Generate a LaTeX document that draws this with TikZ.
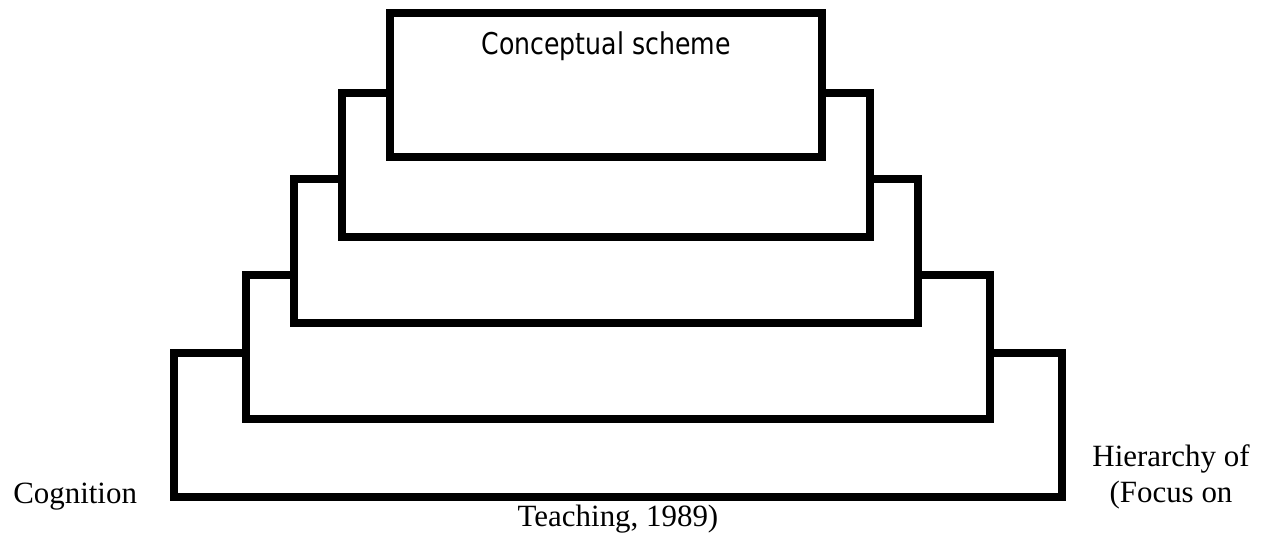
\documentclass[tikz,border=0pt]{standalone}
\usepackage{fontspec}
\setmainfont{Liberation Serif}
\newfontfamily\boxfont[FakeStretch=0.84]{DejaVu Sans}
\begin{document}
\begin{tikzpicture}[x=0.75pt,y=-0.75pt,
  tier/.style={draw=black,fill=white,line width=6pt,rectangle,inner sep=0pt,minimum height=108pt},
  serif/.style={inner sep=0pt,font=\fontsize{23.2pt}{27pt}\selectfont},
  sans/.style={inner sep=0pt,font=\boxfont\fontsize{22.5pt}{27pt}\selectfont}]
\useasboundingbox (0,0) rectangle (1265,546);
\node[tier,minimum width=666pt] (b5) at (618,425) {};
\node[tier,minimum width=558pt] (b4) at (618,347) {};
\node[tier,minimum width=468pt] (b3) at (606,251) {};
\node[tier,minimum width=396pt] (b2) at (606,165) {};
\node[tier,minimum width=324pt] (b1) at (606,85) {};
\node[sans,anchor=base] (t1) at (606,55) {Conceptual scheme};
\node[serif,anchor=base west] (cog) at (13,503) {Cognition};
\node[serif,anchor=base] (hier) at (1171,466) {Hierarchy of};
\node[serif,anchor=base] (focus) at (1171,502) {(Focus on};
\node[serif,anchor=base] (teach) at (618,526) {Teaching, 1989)};
\end{tikzpicture}
\end{document}
